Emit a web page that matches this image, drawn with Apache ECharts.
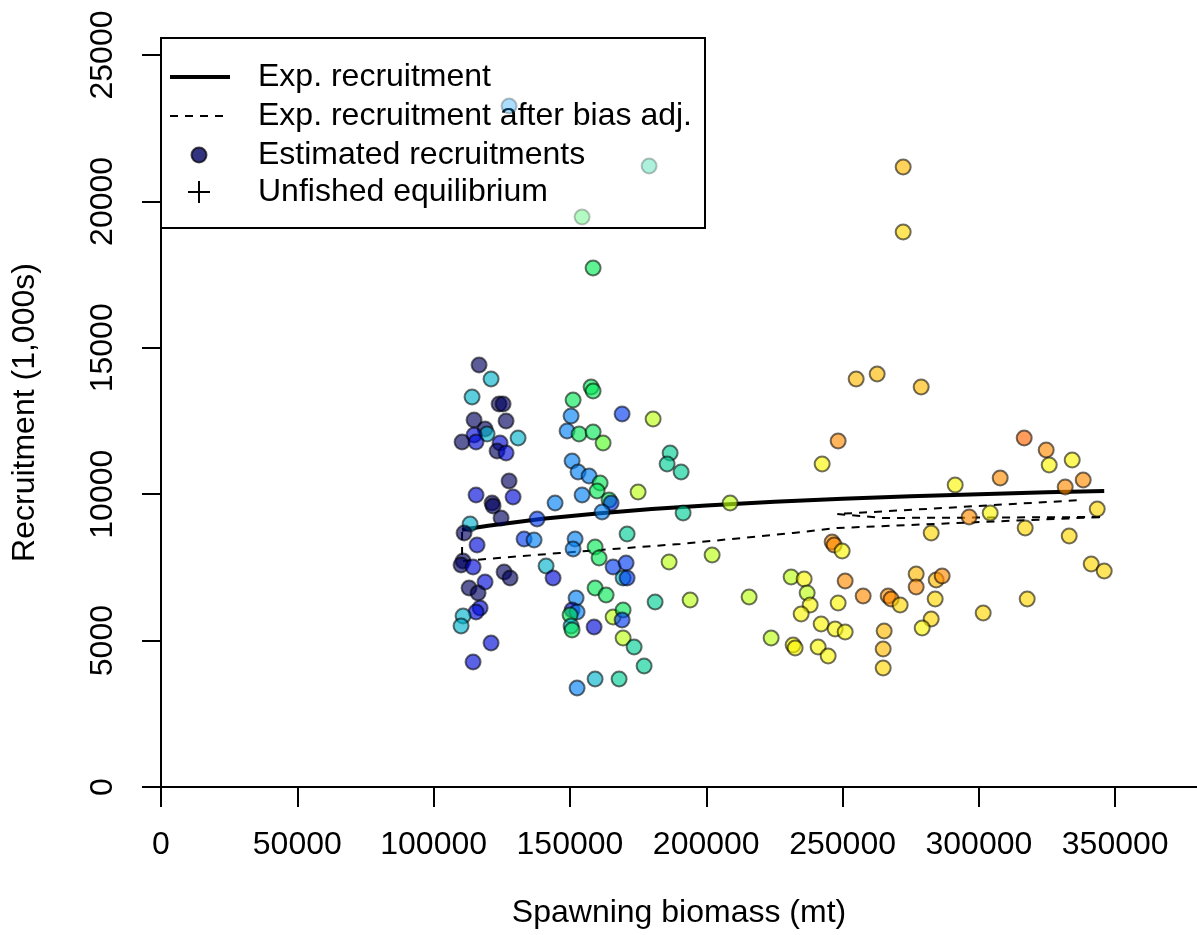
<!DOCTYPE html>
<html>
<head>
<meta charset="utf-8">
<script src="https://cdn.jsdelivr.net/npm/echarts@6/dist/echarts.min.js"></script>
<style>
html,body{margin:0;padding:0;background:#fff;}
#chart{width:1197px;height:935px;}
</style>
</head>
<body>
<div id="chart"></div>
<script>
// ---------------- DATA ----------------
// Spawning biomass (mt) of each estimated recruitment point
const spawnBio = [
116668,121070,114100,124005,125473,114834,126574,118869,119603,114834,110431,115567,130976,124372,123272,126574,127674,115567,129142,121437,121804,124739,144551,137947,113366,111165,115934,133177,136846,110798,110064,114467,141249,143817,125840,128041,118869,113000,116301,117035,115567,110798,110064,121070,114467,
157759,158492,151154,169132,180505,150421,148953,153356,158492,162161,186742,185641,190778,150788,152989,157025,161060,159960,174998,154456,164362,165096,161794,191511,170968,151888,151154,159226,160693,165830,170601,169499,170968,186375,159226,163262,152255,150788,152622,150054,150421,150788,158859,165830,169499,169132,181239,169499,173534,177203,159226,168031,152622,
127674,179037,154456,158492,
208755,248378,242508,246176,246910,249845,202151,194080,215725,231134,235904,237004,238105,234803,248378,250946,242141,247277,250946,223797,231868,241040,232602,244709,
272225,272225,254982,262686,278829,291303,282498,257550,266722,267822,271124,276994,276994,284332,286533,283965,265254,264887,282498,279196,264887,
316617,324689,325789,334228,307812,338263,331660,343400,304144,296439,316984,333127,341198,345968,317718,301575
];
// Estimated recruitment (1,000s)
const recruitment = [
14413,13934,13320,13081,13081,12534,12500,12227,12056,12022,11783,11783,11919,11749,11475,11407,10451,9973,9904,9699,9597,9187,9699,9153,8982,8675,8265,8470,8436,7719,7583,7514,7548,7138,7343,7138,7001,6796,6626,6113,5977,5840,5499,4918,4269,
13661,13525,13217,12739,12568,12671,12158,12056,12124,11749,11407,11031,10758,11134,10758,10622,10383,10109,10075,9973,9802,9699,9392,9358,8641,8470,8128,8197,7821,7514,7650,7138,7138,7684,6796,6557,6455,6045,5977,5874,5499,5362,5464,5806,6045,5704,6318,5089,4781,4133,3689,3689,3381,
23258,21209,19467,17725,
9699,11817,11031,8367,8265,8060,7923,6387,6489,7172,7104,6626,6216,5908,6284,7036,5567,5396,5294,5089,4850,4781,4747,4474,
21175,18955,13934,14105,13661,10314,8675,6523,6523,6421,6216,7275,6831,7070,7206,6421,5328,4713,5738,5430,4064,
11919,11510,10997,11168,10553,10485,10246,9495,9358,9221,8846,8572,7616,7377,6421,5943
];
// Colour class of each point (index into the time palette defined below)
const colorClass = [
0,4,4,0,0,0,0,0,4,1,0,1,4,1,0,1,0,1,1,0,0,0,3,2,4,0,1,2,3,0,0,1,4,1,0,0,1,0,0,1,1,4,4,1,1,
6,6,6,2,8,3,3,6,6,7,5,5,5,3,3,3,6,6,8,3,6,2,3,5,5,3,3,6,6,2,2,4,2,8,6,6,3,1,3,6,4,6,1,8,6,2,5,8,5,5,4,5,3,
14,15,16,6,
8,12,9,12,12,9,8,8,8,8,9,8,9,9,9,12,9,9,9,8,9,9,9,9,
11,10,11,11,11,9,10,12,12,12,10,11,12,11,12,10,11,11,10,9,10,
13,12,9,9,12,12,12,10,9,12,10,10,10,10,10,10
];
// Expected recruitment curve
const expCurveBio = [110431,120000,140000,160000,180000,200000,225000,250000,275000,300000,325000,345968];
const expCurveRec = [8786,8923,9158,9342,9491,9614,9740,9843,9928,10001,10064,10110];
// Expected recruitment after bias adjustment (read along the dashed path, year order)
const biasAdjBio = [110431,110431,146385,190411,231868,248011,345601,264887,248011,338263];
const biasAdjRec = [8709,7719,7992,8299,8675,8846,9221,9187,9324,9802];
// Axis ticks
const xTicks = [0,50000,100000,150000,200000,250000,300000,350000];
const yTicks = [0,5000,10000,15000,20000,25000];
const legendLabels = ['Exp. recruitment','Exp. recruitment after bias adj.','Estimated recruitments','Unfished equilibrium'];

// ---------------- STYLE ----------------
const FONT = "'Liberation Sans', Arial, Helvetica, sans-serif";
const palette = [
  [0,0,95],[0,10,215],[0,60,241],[0,128,245],[0,178,204],[0,206,150],[7,233,87],
  [82,252,34],[186,255,17],[250,246,3],[255,215,0],[255,185,0],[255,140,0],[255,100,0],
  [0,150,245],[0,213,150],[19,242,64]
];
function fillOf(c){
  const p = palette[c];
  const a = c >= 14 ? 0.4 : 0.8;
  return 'rgba(' + p[0] + ',' + p[1] + ',' + p[2] + ',' + a + ')';
}
function borderOf(c){ return c >= 14 ? 'rgba(0,0,0,0.3)' : 'rgba(0,0,0,0.7)'; }

const pointData = spawnBio.map((b, i) => ({
  value: [b, recruitment[i]],
  itemStyle: { color: fillOf(colorClass[i]), borderColor: borderOf(colorClass[i]), borderWidth: 2 }
}));
const curveData = expCurveBio.map((b, i) => [b, expCurveRec[i]]);
const biasData = biasAdjBio.map((b, i) => [b, biasAdjRec[i]]);

const chart = echarts.init(document.getElementById('chart'), null, {renderer: 'canvas'});
const hideNonTicks = (ticks) => (v) => ticks.indexOf(v) >= 0 ? String(v) : '';

const option = {
  animation: false,
  backgroundColor: '#fff',
  textStyle: { fontFamily: FONT },
  grid: { left: 161, right: 0, top: 38, bottom: 148, containLabel: false },
  xAxis: {
    type: 'value', min: 0, max: 380000, interval: 50000,
    name: 'Spawning biomass (mt)', nameLocation: 'middle', nameGap: 110,
    nameTextStyle: { fontSize: 32, color: '#000', fontFamily: FONT },
    axisLine: { show: true, onZero: false, lineStyle: { color: '#000', width: 2 } },
    axisTick: { show: true, length: 20, lineStyle: { color: '#000', width: 2 }, customValues: xTicks },
    axisLabel: { fontSize: 32, color: '#000', fontFamily: FONT, margin: 42, customValues: xTicks, formatter: hideNonTicks(xTicks) },
    splitLine: { show: false }
  },
  yAxis: {
    type: 'value', min: 0, max: 25580, interval: 5000,
    name: 'Recruitment (1,000s)', nameLocation: 'middle', nameGap: 120, nameRotate: 90,
    nameTextStyle: { fontSize: 32, color: '#000', fontFamily: FONT },
    axisLine: { show: true, onZero: false, lineStyle: { color: '#000', width: 2 } },
    axisTick: { show: true, length: 19, lineStyle: { color: '#000', width: 2 }, customValues: yTicks },
    axisLabel: { fontSize: 32, color: '#000', fontFamily: FONT, rotate: 90, margin: 42, customValues: yTicks, formatter: hideNonTicks(yTicks) },
    splitLine: { show: false }
  },
  series: [
    {
      name: legendLabels[0], type: 'line', data: curveData, showSymbol: false, symbol: 'none',
      lineStyle: { color: '#000', width: 4 }, z: 2, silent: true
    },
    {
      name: legendLabels[1], type: 'line', data: biasData, showSymbol: false, symbol: 'none',
      lineStyle: { color: '#000', width: 2, type: [8, 7] }, z: 2, silent: true
    },
    {
      name: legendLabels[2], type: 'scatter', data: pointData, symbol: 'circle', symbolSize: 15, z: 3
    }
  ],
  graphic: [
    { type: 'rect', z: 1, shape: { x: 161, y: 38, width: 544, height: 190 }, style: { fill: 'rgba(255,255,255,0)', stroke: '#000', lineWidth: 2 } },
    { type: 'line', z: 1, shape: { x1: 170, y1: 77, x2: 230, y2: 77 }, style: { stroke: '#000', lineWidth: 4 } },
    { type: 'line', z: 1, shape: { x1: 170, y1: 116, x2: 230, y2: 116 }, style: { stroke: '#000', lineWidth: 2, lineDash: [8, 7] } },
    { type: 'circle', z: 1, shape: { cx: 199, cy: 155, r: 7.5 }, style: { fill: fillOf(0), stroke: borderOf(0), lineWidth: 2 } },
    { type: 'line', z: 1, shape: { x1: 188, y1: 192, x2: 210, y2: 192 }, style: { stroke: '#000', lineWidth: 2 } },
    { type: 'line', z: 1, shape: { x1: 199, y1: 181, x2: 199, y2: 203 }, style: { stroke: '#000', lineWidth: 2 } },
    { type: 'text', z: 1, x: 258, y: 77, style: { text: legendLabels[0], fontSize: 32, fontFamily: FONT, fill: '#000', verticalAlign: 'middle' } },
    { type: 'text', z: 1, x: 258, y: 116, style: { text: legendLabels[1], fontSize: 32, fontFamily: FONT, fill: '#000', verticalAlign: 'middle' } },
    { type: 'text', z: 1, x: 258, y: 155, style: { text: legendLabels[2], fontSize: 32, fontFamily: FONT, fill: '#000', verticalAlign: 'middle' } },
    { type: 'text', z: 1, x: 258, y: 192, style: { text: legendLabels[3], fontSize: 32, fontFamily: FONT, fill: '#000', verticalAlign: 'middle' } }
  ]
};
chart.setOption(option);
</script>
</body>
</html>
